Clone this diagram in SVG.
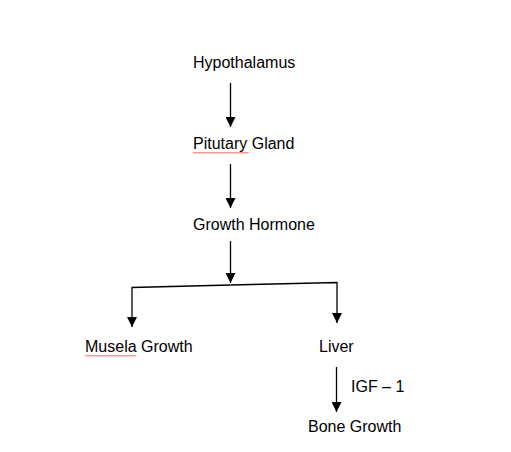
<svg xmlns="http://www.w3.org/2000/svg" width="511" height="452" viewBox="0 0 511 452">
<style>
text{font-family:"Liberation Sans",Arial,sans-serif;font-size:16px;fill:#000}
.c{stroke:#000;stroke-width:1.3;fill:none}
.w{stroke:#e03030;stroke-width:0.8;fill:none}
</style>
<defs>
<marker id="ah" markerWidth="10" markerHeight="10" refX="10" refY="5" orient="auto" markerUnits="userSpaceOnUse">
<path d="M0,0 L10,5 L0,10 Z" fill="#000"/>
</marker>
</defs>
<rect width="511" height="452" fill="#fff"/>
<g id="connectors">
<line class="c" x1="230.5" y1="83" x2="230.5" y2="127" marker-end="url(#ah)"/>
<line class="c" x1="230.5" y1="164" x2="230.5" y2="208" marker-end="url(#ah)"/>
<line class="c" x1="230.5" y1="241" x2="230.5" y2="283" marker-end="url(#ah)"/>
<polyline class="c" points="230.5,285 132,287.5 132,327" marker-end="url(#ah)"/>
<polyline class="c" points="230.5,285 337,282.5 337,323" marker-end="url(#ah)"/>
<line class="c" x1="336.5" y1="367" x2="336.5" y2="412" marker-end="url(#ah)"/>
</g>
<g id="hypothalamus"><text x="193" y="68">Hypothalamus</text></g>
<g id="pituitary"><text x="193" y="149">Pitutary Gland</text>
<path class="w" d="M193,153.5 l1.5,-1.5 l1.5,1.5 l1.5,-1.5 l1.5,1.5 l1.5,-1.5 l1.5,1.5 l1.5,-1.5 l1.5,1.5 l1.5,-1.5 l1.5,1.5 l1.5,-1.5 l1.5,1.5 l1.5,-1.5 l1.5,1.5 l1.5,-1.5 l1.5,1.5 l1.5,-1.5 l1.5,1.5 l1.5,-1.5 l1.5,1.5 l1.5,-1.5 l1.5,1.5 l1.5,-1.5 l1.5,1.5 l1.5,-1.5 l1.5,1.5 l1.5,-1.5 l1.5,1.5 l1.5,-1.5 l1.5,1.5 l1.5,-1.5 l1.5,1.5 l1.5,-1.5 l1.5,1.5 l1.5,-1.5 l1.5,1.5 l1.5,-1.5"/></g>
<g id="growth-hormone"><text x="193" y="230">Growth Hormone</text></g>
<g id="musela-growth"><text x="85" y="352">Musela Growth</text>
<path class="w" d="M85,356.5 l1.5,-1.5 l1.5,1.5 l1.5,-1.5 l1.5,1.5 l1.5,-1.5 l1.5,1.5 l1.5,-1.5 l1.5,1.5 l1.5,-1.5 l1.5,1.5 l1.5,-1.5 l1.5,1.5 l1.5,-1.5 l1.5,1.5 l1.5,-1.5 l1.5,1.5 l1.5,-1.5 l1.5,1.5 l1.5,-1.5 l1.5,1.5 l1.5,-1.5 l1.5,1.5 l1.5,-1.5 l1.5,1.5 l1.5,-1.5 l1.5,1.5 l1.5,-1.5 l1.5,1.5 l1.5,-1.5 l1.5,1.5 l1.5,-1.5 l1.5,1.5 l1.5,-1.5 l1.5,1.5"/></g>
<g id="liver"><text x="319" y="352">Liver</text></g>
<g id="igf"><text x="351" y="392">IGF – 1</text></g>
<g id="bone-growth"><text x="308" y="432">Bone Growth</text></g>
</svg>
